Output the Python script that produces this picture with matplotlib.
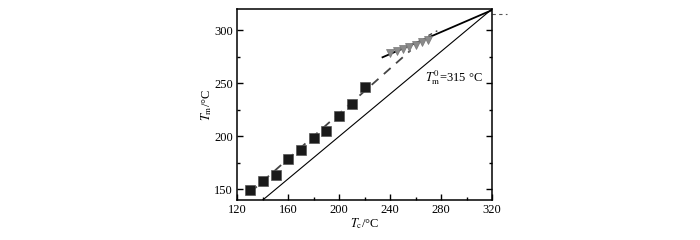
import matplotlib
matplotlib.use('Agg')
import matplotlib.pyplot as plt
import matplotlib.ticker as ticker

# squares: Tm vs Tc (low Tc)
tc_sq = [130, 140, 150, 160, 170, 180, 190, 200, 210, 220]
tm_sq = [149, 157.5, 164, 179, 187, 198, 205, 219, 230, 246.5]

# triangles: Tm vs Tc (high Tc)
tc_tri = [240, 245, 250, 255, 260, 265, 270]
tm_tri = [279, 280.5, 282, 284, 286, 288.5, 291]

# fit lines
sq_fit_x = [130, 256]
sq_fit_y = [147, 281]
tri_fit_x = [234, 320]
tri_fit_y = [274.5, 319]
tri_dash_x = [270, 277]
tri_dash_y = [295, 299.5]
eq_x = [120, 320]
tm0 = 315

plt.rcParams['font.family'] = 'Liberation Serif'
plt.rcParams['font.size'] = 9
plt.rcParams['mathtext.fontset'] = 'stix'

fig = plt.figure(figsize=(7, 2.4), dpi=100)
ax = fig.add_axes([0.339, 0.1667, 0.364, 0.7958])

ax.plot(eq_x, eq_x, color='black', lw=0.8)
ax.plot(sq_fit_x, sq_fit_y, color='#444444', lw=1.3, dashes=(5, 4))
ax.plot(tri_fit_x, tri_fit_y, color='black', lw=1.3)
ax.plot(tri_dash_x, tri_dash_y, color='#444444', lw=1.0, dashes=(3, 3))
ax.plot(tc_sq, tm_sq, 's', color='#1a1a1a', markersize=6.5, mec='#555555', mew=0.5)
ax.plot(tc_tri, tm_tri, 'v', color='#8a8a8a', markersize=6, mec='#777777', mew=0.5)
ax.plot([320, 332], [tm0, tm0], color='#555555', lw=0.8, dashes=(3, 3), clip_on=False)

ax.text(267, 255, r'$T_{\mathrm{m}}^{0}$=315 °C', fontsize=9, va='center')

ax.set_xlim(120, 320)
ax.set_ylim(140, 320)
ax.xaxis.set_major_locator(ticker.MultipleLocator(40))
ax.xaxis.set_minor_locator(ticker.MultipleLocator(20))
ax.yaxis.set_major_locator(ticker.MultipleLocator(50))
ax.yaxis.set_minor_locator(ticker.MultipleLocator(25))
ax.tick_params(which='both', direction='in', right=True, width=1)
ax.tick_params(which='major', length=4, pad=3)
ax.tick_params(which='minor', length=2.5)
for s in ax.spines.values():
    s.set_linewidth(1.1)

ax.set_xlabel(r'$T_{\mathrm{c}}$/°C', labelpad=0)
ax.set_ylabel(r'$T_{\mathrm{m}}$/°C', labelpad=0)

fig.savefig('out.png', dpi=100)
